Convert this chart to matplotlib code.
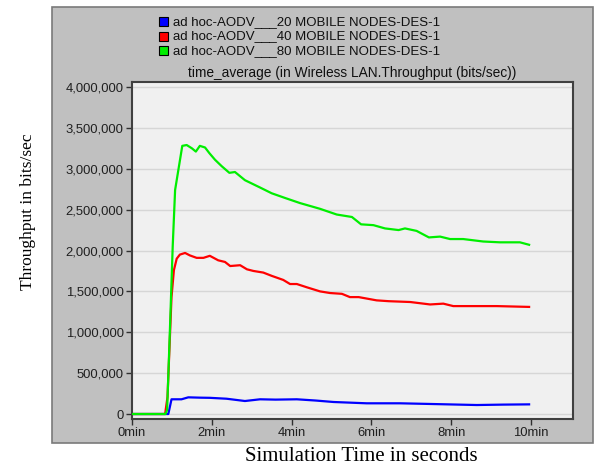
import matplotlib.pyplot as plt
from matplotlib.patches import Rectangle
from matplotlib.ticker import FuncFormatter

# simulation time (min) and throughput (bits/sec) for each scenario
t_20 = [0, 0.85, 0.91, 0.99, 1.24, 1.41, 1.70, 1.95, 2.37, 2.83, 3.21, 3.60, 4.13, 4.60,
        5.05, 5.88, 6.72, 7.55, 8.64, 9.30, 9.95]
thr_20 = [0, 0, 0, 180000, 180000, 204000, 200000, 198000, 187000, 159000, 180000, 176000,
          180000, 165000, 147000, 131000, 131000, 122000, 110000, 115000, 118000]

t_40 = [0, 0.83, 0.89, 0.94, 0.99, 1.05, 1.12, 1.20, 1.33, 1.45, 1.62, 1.79, 1.95, 2.16,
        2.33, 2.46, 2.71, 2.88, 3.04, 3.29, 3.50, 3.79, 3.96, 4.13, 4.38, 4.71, 4.96, 5.26,
        5.46, 5.68, 6.13, 6.43, 6.97, 7.47, 7.80, 8.05, 8.55, 9.14, 9.95]
thr_40 = [0, 0, 210000, 820000, 1430000, 1760000, 1900000, 1950000, 1970000, 1940000,
          1910000, 1910000, 1935000, 1880000, 1860000, 1810000, 1820000, 1770000, 1750000,
          1730000, 1690000, 1640000, 1590000, 1590000, 1550000, 1500000, 1480000, 1470000,
          1430000, 1430000, 1390000, 1380000, 1370000, 1340000, 1350000, 1320000, 1320000,
          1320000, 1310000]

t_80 = [0, 0.84, 0.88, 0.95, 1.02, 1.08, 1.16, 1.26, 1.37, 1.50, 1.60, 1.70, 1.83, 1.94,
        2.08, 2.25, 2.44, 2.58, 2.83, 3.21, 3.50, 3.85, 4.21, 4.71, 5.13, 5.51, 5.74, 6.05,
        6.34, 6.68, 6.84, 7.13, 7.44, 7.72, 7.97, 8.30, 8.80, 9.22, 9.72, 9.95]
thr_80 = [0, 0, 50000, 1030000, 2050000, 2740000, 2980000, 3280000, 3290000, 3250000,
          3210000, 3280000, 3260000, 3190000, 3110000, 3030000, 2950000, 2960000, 2860000,
          2770000, 2700000, 2640000, 2580000, 2510000, 2440000, 2410000, 2320000, 2310000,
          2270000, 2250000, 2270000, 2240000, 2160000, 2170000, 2140000, 2140000, 2110000,
          2100000, 2100000, 2070000]

series = [
    (t_20, thr_20, '#0000ff', 'ad hoc-AODV___20 MOBILE NODES-DES-1'),
    (t_40, thr_40, '#ff0000', 'ad hoc-AODV___40 MOBILE NODES-DES-1'),
    (t_80, thr_80, '#00ee00', 'ad hoc-AODV___80 MOBILE NODES-DES-1'),
]

x_ticks = [0, 2, 4, 6, 8, 10]
y_ticks = [0, 500000, 1000000, 1500000, 2000000, 2500000, 3000000, 3500000, 4000000]

W, H = 595, 465
ui_font = ['Liberation Sans', 'DejaVu Sans']
serif_font = ['Liberation Serif', 'DejaVu Serif']

fig = plt.figure(figsize=(W / 100, H / 100), dpi=100)
fig.patch.set_facecolor('white')

# grey panel behind the chart
fig.patches.append(Rectangle((52 / W, 1 - 443 / H), (593 - 52) / W, (443 - 7) / H,
                             transform=fig.transFigure, facecolor='#c0c0c0',
                             edgecolor='#7a7a7a', lw=1.2, zorder=-5))

ax = fig.add_axes([132 / W, 1 - 419 / H, (573 - 132) / W, (419 - 82) / H])
ax.set_zorder(2)
ax.set_facecolor('#f0f0f0')

for t, v, c, name in series:
    ax.plot(t, v, color=c, lw=1.6, zorder=3)

ax.set_xlim(0, 11.05)
ax.set_ylim(-61000, 4061000)
ax.set_xticks(x_ticks)
ax.set_yticks(y_ticks)
ax.xaxis.set_major_formatter(FuncFormatter(lambda v, p: f'{int(v)}min'))
ax.yaxis.set_major_formatter(FuncFormatter(lambda v, p: f'{int(v):,}'))
ax.grid(axis='y', color='#d6d6d6', lw=1.0)
ax.set_axisbelow(True)
ax.tick_params(direction='out', length=4, width=1, color='#303030', labelsize=9.4, pad=2)
for lab in ax.get_xticklabels() + ax.get_yticklabels():
    lab.set_family(ui_font)
    lab.set_color('#202020')
for s in ax.spines.values():
    s.set_color('#404040')
    s.set_linewidth(1.5)

# legend rows with coloured keys
for i, (t, v, c, name) in enumerate(series):
    yc = 22 + i * 14.5
    fig.patches.append(Rectangle((159 / W, 1 - (yc + 4.5) / H), 9 / W, 9 / H,
                                 transform=fig.transFigure, facecolor=c,
                                 edgecolor='black', lw=0.8, zorder=2))
    fig.text(173 / W, 1 - yc / H, name, ha='left', va='center', fontsize=9.5,
             family=ui_font, color='#101010')

fig.text(352.5 / W, 1 - 73 / H, 'time_average (in Wireless LAN.Throughput (bits/sec))',
         ha='center', va='center', fontsize=9.9, family=ui_font, color='#101010')

fig.text(28 / W, 1 - 212 / H, 'Throughput in bits/sec', rotation=90, ha='center',
         va='center', fontsize=12.5, family=serif_font)
fig.text(361 / W, 1 - 456 / H, 'Simulation Time in seconds', ha='center', va='center',
         fontsize=15, family=serif_font)

fig.savefig('out.png', dpi=100)
